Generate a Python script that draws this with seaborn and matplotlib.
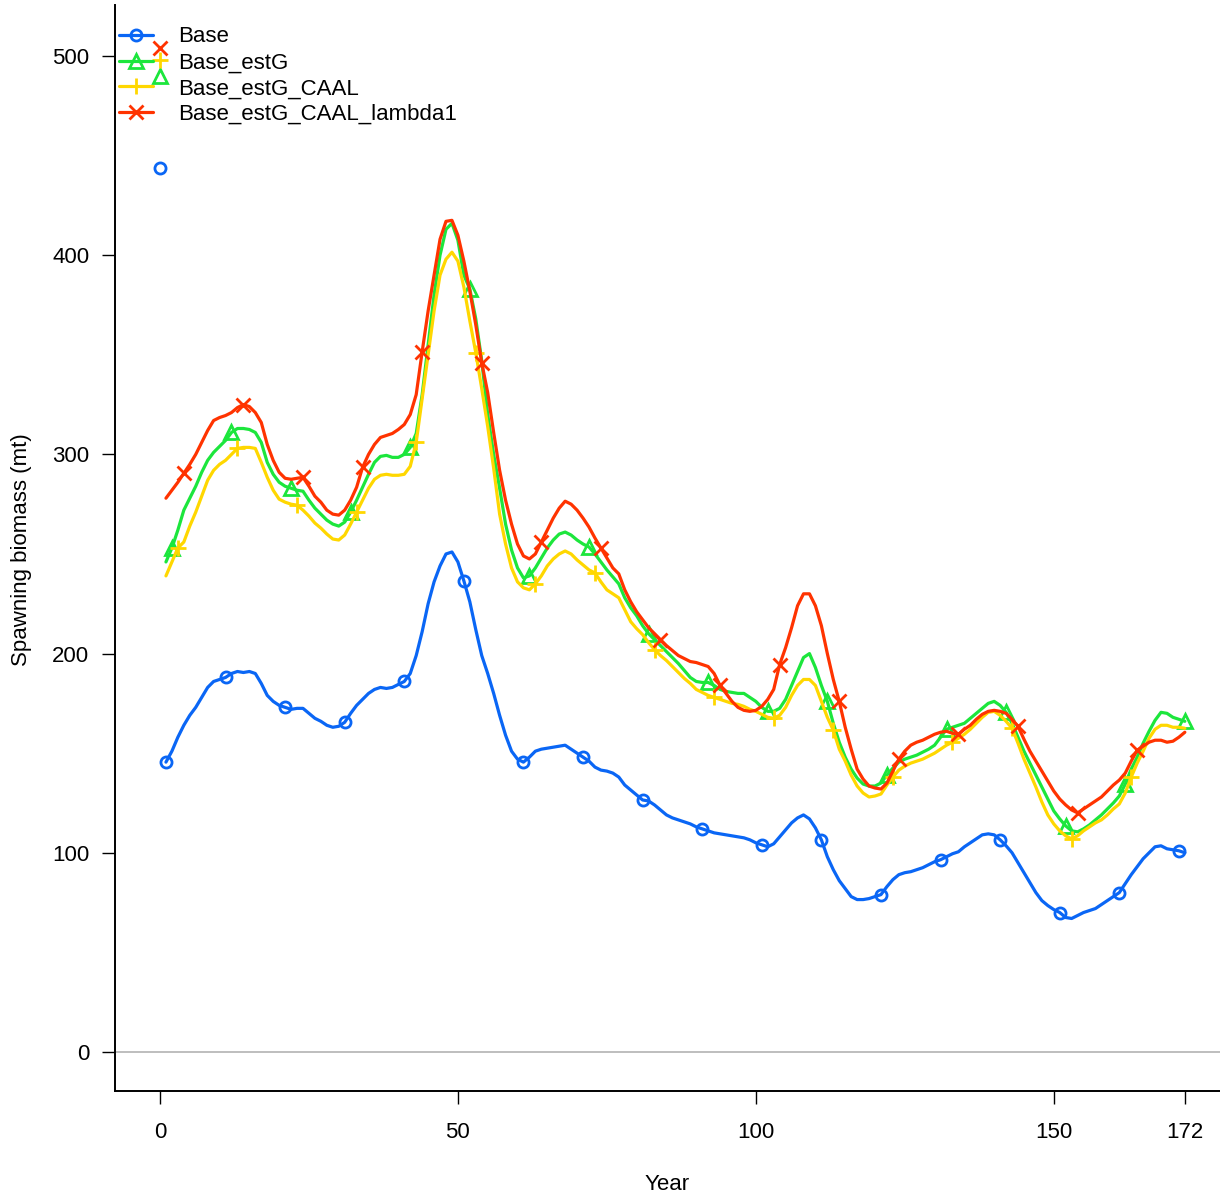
import numpy as np
import pandas as pd
import matplotlib
matplotlib.use("Agg")
import matplotlib.pyplot as plt
import seaborn as sns

years = list(range(1, 173))

base = [145.5, 151, 158, 164, 169, 173, 178, 183, 186, 187,
        188, 190, 191, 190.5, 191, 190, 185, 179, 176, 174,
        173, 172, 172.5, 172.5, 170, 167.5, 166, 164, 163, 163.5,
        165.5, 170, 174, 177, 180, 182, 183, 182.5, 183, 184.5,
        186, 190, 199, 211, 225, 236, 244, 250, 251, 246,
        236.5, 226, 212, 199, 190, 180, 169, 159, 151, 147,
        145.5, 148, 151, 152, 152.5, 153, 153.5, 154, 152, 150,
        148, 146, 143, 141.5, 141, 140, 138, 134, 131.5, 129,
        126.5, 126, 124, 121.5, 119, 117.5, 116.5, 115.5, 114.5, 113,
        112, 111, 110, 109.5, 109, 108.5, 108, 107.5, 106.5, 105,
        104, 103, 104.5, 108, 111.5, 115, 117.5, 119, 117, 112.5,
        106.5, 98, 91.5, 86, 82, 78, 76.5, 76.5, 77, 78,
        79, 83, 86.5, 89, 90, 90.5, 91.5, 92.5, 94, 95.5,
        96.5, 98, 99.5, 100.5, 103, 105, 107, 109, 109.5, 109,
        106.5, 103.5, 100, 95, 90, 85, 80, 76, 73.5, 71.5,
        70, 67.5, 67, 68.5, 70, 71, 72, 74, 76, 78,
        80, 84.5, 89, 93, 97, 100, 103, 103.5, 102, 101.5,
        101, 100]

est_g = [246, 253, 262, 272, 278, 284, 291, 297, 301, 304,
         307, 311, 313, 313, 312.5, 311, 306, 296, 290, 286,
         284, 283, 282, 281.5, 277, 273, 270, 267, 265, 264,
         266, 271, 277, 283.5, 290, 296, 299, 299.5, 298.5, 298.5,
         300, 303.5, 310.5, 330, 355, 380, 400, 413, 416, 407.5,
         390, 383, 368, 347, 320, 300, 283, 265, 252, 243,
         238, 239, 243, 248, 253, 257, 260, 261, 259.5, 257,
         255, 253.5, 250, 246, 242, 238.5, 235, 228, 223, 219,
         214, 210, 207, 204, 201, 198, 195, 191.5, 188, 186,
         185.5, 185.5, 184, 182, 181, 180.5, 180, 180, 178, 176,
         173, 171, 171, 172.5, 177, 184, 191, 198, 200, 193,
         184, 176, 165, 155.5, 148, 142, 137.5, 134.5, 133.5, 133.5,
         135, 139, 142.5, 145.5, 147, 148, 149, 150.5, 152, 154,
         158, 162, 163, 164, 165, 167.5, 170, 172.5, 175, 176,
         174, 170.5, 165, 158, 151, 145, 139, 133, 127, 121,
         117, 113.5, 111, 110.5, 112, 114, 116.5, 119, 122, 125,
         128.5, 134.5, 142, 148, 155, 161, 166.5, 170.5, 170, 168,
         167, 166]

est_g_caal = [239, 246, 253, 256, 264, 271, 279, 287, 292, 295,
              297, 300, 303, 303.5, 303.5, 303, 296, 288.5, 282, 277.5,
              276, 275, 274.5, 272, 269, 265.5, 263, 260, 257.5, 257,
              259.5, 265, 271, 277, 283, 287.5, 289.5, 290, 289.5, 289.5,
              290, 294, 306, 328, 350, 372, 390, 398, 401.5, 397,
              384, 367, 351, 333, 314, 293, 270, 255, 243, 236,
              233, 232, 235, 239, 244, 247.5, 250, 251.5, 250, 247,
              244.5, 242, 240.5, 236, 232, 230, 228, 222, 216, 212.5,
              209.5, 205.5, 202, 199, 196.5, 193.5, 190.5, 187.5, 185, 182,
              180.5, 179, 178, 177, 176, 175, 174.5, 173.5, 172, 171,
              169.5, 168, 167.5, 169, 173, 179, 184, 187, 187, 184,
              176, 168, 161.5, 152, 146, 139, 133.5, 130, 128, 128.5,
              129.5, 134, 138, 141.5, 143.5, 145, 146, 147, 148.5, 150,
              152, 154, 155.5, 157.5, 159.5, 162, 165, 168, 170.5, 171,
              169, 166, 162.5, 155, 147, 140, 133, 125.5, 119, 114.5,
              111, 108.5, 107, 108.5, 111, 113, 115, 116.5, 119, 122,
              124.5, 130, 138, 145, 151, 157.5, 162, 164, 164, 163,
              163, 162.5]

est_g_caal_l1 = [278, 282, 286, 290.5, 295, 300, 306, 312, 317, 318.5,
                 319.5, 321, 323.5, 325, 324, 321, 316, 305, 297, 291,
                 288, 287.5, 288, 288.5, 284, 279, 276, 272, 270, 269.5,
                 272, 277, 283.5, 293.5, 300, 305, 308.5, 309.5, 310.5, 312.5,
                 315, 320, 330, 351.5, 372, 390, 408, 417, 417.5, 410,
                 397, 382, 365, 346, 331, 311, 292, 277, 265, 255,
                 249, 247.5, 250, 256, 262, 268, 273, 276.5, 275, 272,
                 268, 263.5, 258, 253, 248, 243, 240, 232, 226, 221,
                 217, 213, 210, 207, 204, 201.5, 199, 197.5, 196, 195.5,
                 194.5, 193.5, 190, 184, 180, 176, 173, 171.5, 171, 171.5,
                 173.5, 177, 182, 194.5, 203, 213, 224, 230, 230, 224,
                 214, 200, 187, 176, 163, 152, 142, 137, 133.5, 132.5,
                 132, 135, 141, 147, 151, 154, 155.5, 156.5, 158, 159.5,
                 160.5, 161, 160, 159.5, 162, 164, 167, 169.5, 171, 171.5,
                 171, 170, 167, 163.5, 157, 151, 146, 141, 136, 131,
                 127, 124, 121.5, 120, 122, 124, 126, 128, 131, 134,
                 136.5, 140, 146, 151.5, 153.5, 155.5, 156.5, 156.5, 155.5, 156,
                 158, 160.5]

model_names = ["Base", "Base_estG", "Base_estG_CAAL", "Base_estG_CAAL_lambda1"]
virgin_biomass = [444, 490, 498, 504]
series = [base, est_g, est_g_caal, est_g_caal_l1]

colors = ["#0A66F5", "#1CE63C", "#FFD700", "#FF3300"]
markers = ["o", "^", "+", "x"]
msizes = [8, 10, 12, 9.5]

sns.set_style("ticks")
plt.rcParams["font.family"] = ["Liberation Sans", "DejaVu Sans"]
plt.rcParams["text.color"] = "black"
plt.rcParams["axes.labelcolor"] = "black"
plt.rcParams["xtick.color"] = "black"
plt.rcParams["ytick.color"] = "black"

fig = plt.figure(figsize=(12.2, 11.98), dpi=100)
ax = fig.add_axes([115 / 1220, 1 - 1091 / 1198, 1 - 115 / 1220, (1091 - 5) / 1198])

ax.axhline(0, color="#BEBEBE", lw=1.4, zorder=1)

for i, (name, vals) in enumerate(zip(model_names, series)):
    df = pd.DataFrame({"Year": years, "SB": vals})
    sns.lineplot(data=df, x="Year", y="SB", ax=ax, color=colors[i], lw=2.3,
                 marker=markers[i], markevery=(i, 10), markersize=msizes[i],
                 markeredgecolor=colors[i], markerfacecolor="none",
                 markeredgewidth=2.0, label=name, estimator=None, zorder=3 + i)
    ax.plot([0], [virgin_biomass[i]], ls="none", marker=markers[i],
            markersize=msizes[i], markeredgecolor=colors[i],
            markerfacecolor="none", markeredgewidth=2.0, zorder=3 + i)

ax.set_xlim(-7.55, 177.9)
ax.set_ylim(-19.6, 525.6)
ax.set_xticks([0, 50, 100, 150, 172])
ax.set_yticks([0, 100, 200, 300, 400, 500])
ax.tick_params(axis="both", labelsize=16, length=9.5, width=1.0, direction="out",
               color="black", labelcolor="black")
ax.tick_params(axis="x", pad=13)
ax.tick_params(axis="y", pad=9)
for s in ["top", "right"]:
    ax.spines[s].set_visible(False)
for s in ["left", "bottom"]:
    ax.spines[s].set_color("black")
    ax.spines[s].set_linewidth(1.4)

ax.set_xlabel("Year", fontsize=16, color="black")
ax.set_ylabel("Spawning biomass (mt)", fontsize=16, color="black")
ax.xaxis.label.set_va("center")
ax.yaxis.label.set_va("center")
ax.xaxis.set_label_coords(0.5, (1091 - 1185) / 1086)
ax.yaxis.set_label_coords((22 - 115) / 1105, (1091 - 550) / 1086)

leg = ax.legend(loc="upper left", bbox_to_anchor=(0.0, 1.0 - 17 / 1086), frameon=False,
                fontsize=16, handlelength=1.5, handletextpad=1.15, labelspacing=0.22,
                borderaxespad=0.0, borderpad=0.2)
for t in leg.get_texts():
    t.set_color("black")

fig.savefig("out.png", dpi=100, facecolor="white")
